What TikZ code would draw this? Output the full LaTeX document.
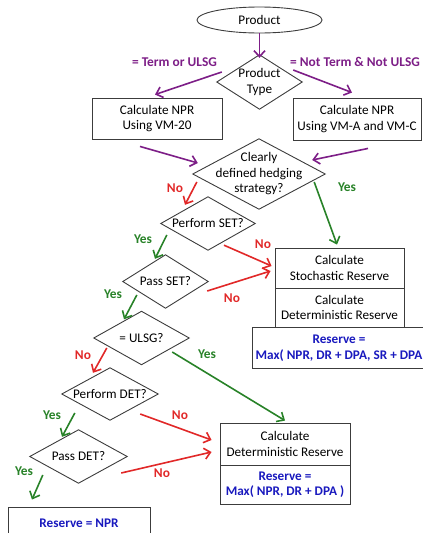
\documentclass[tikz,border=0pt]{standalone}
\usepackage{fontspec}
\setmainfont{Carlito}
\usetikzlibrary{shapes.geometric,arrows.meta}
\definecolor{cpurple}{RGB}{125,30,135}
\definecolor{cred}{RGB}{225,40,40}
\definecolor{cgreen}{RGB}{40,130,40}
\definecolor{cblue}{RGB}{25,25,190}
\definecolor{cline}{RGB}{60,60,60}
\begin{document}
\begin{tikzpicture}[x=1pt,y=-1pt,
  base/.style={font=\fontsize{13.2}{15.5}\selectfont, align=center, inner sep=0pt},
  box/.style={base, draw=cline, line width=0.9pt, rectangle},
  dia/.style={base, rectangle},
  ell/.style={base, draw=cline, line width=0.9pt, ellipse},
  arr/.style={line width=1.6pt, -{Straight Barb[length=6pt,width=11pt,line width=1.6pt]}},
  parr/.style={arr, draw=cpurple},
  rarr/.style={arr, draw=cred},
  garr/.style={arr, draw=cgreen},
  lab/.style={font=\fontsize{13.4}{15}\selectfont\bfseries, inner sep=0pt},
  res/.style={font=\fontsize{13.2}{15.5}\selectfont\bfseries, text=cblue, align=center}
]
\useasboundingbox (0,0) rectangle (423,533);
\clip (0,0) rectangle (423,533);

% nodes
\node[ell, minimum width=125, minimum height=26] (prod) at (259.5,20) {Product};
\node[dia, minimum width=85, minimum height=54] (ptype) at (259.5,82) {Product\\Type};
\node[box, minimum width=130, minimum height=41] (npr1) at (157,118.5) {Calculate NPR\\Using VM-20};
\node[box, minimum width=128, minimum height=42] (npr2) at (357,119) {Calculate NPR\\Using VM-A and VM-C};
\node[dia, minimum width=132, minimum height=70] (hedge) at (259,174) {Clearly\\defined hedging\\strategy?};
\node[dia, minimum width=94, minimum height=53] (pset) at (208,223.5) {Perform SET?};
\node[box, minimum width=129, minimum height=40] (stoch) at (339.5,268) {Calculate\\Stochastic Reserve};
\node[box, minimum width=129, minimum height=39] (detr1) at (339.5,307.5) {Calculate\\Deterministic Reserve};
\node[box, minimum width=178, minimum height=41] (res1) at (341,347.5) {};
\node[res] (res1t) at (339,348) {Reserve =\\Max( NPR, DR + DPA, SR + DPA};
\node[dia, minimum width=85, minimum height=53] (passset) at (165.5,281.5) {Pass SET?};
\node[dia, minimum width=95, minimum height=53] (ulsg) at (141.5,338) {= ULSG?};
\node[dia, minimum width=96, minimum height=52] (pdet) at (110,394) {Perform DET?};
\node[dia, minimum width=97, minimum height=53] (passdet) at (78.5,456.5) {Pass DET?};
\node[box, minimum width=130, minimum height=42] (det2) at (285,444) {Calculate\\Deterministic Reserve};
\node[box, minimum width=130, minimum height=39, res] (res2) at (285,484.5) {Reserve =\\Max( NPR, DR + DPA )};
\node[box, minimum width=142, minimum height=40] (resnpr) at (79,527) {};
\node[res, anchor=north] (resnprt) at (79,515) {Reserve = NPR};

% diamonds
\foreach \n in {ptype,hedge,pset,passset,ulsg,pdet,passdet}
  \draw[cline, line width=0.9pt] (\n.north) -- (\n.east) -- (\n.south) -- (\n.west) -- cycle;

% connectors
\draw[parr] (prod.south) -- ([yshift=-3]ptype.north);
\draw[parr] ([shift={(5,-10)}]ptype.west) -- ([shift={(-2,-3)}]npr1.north);
\draw[parr] ([shift={(-9,-12)}]ptype.east) -- ([shift={(-5,-5)}]npr2.north);
\draw[parr] ([shift={(-17,7)}]npr1.south) -- ([shift={(5,-11)}]hedge.west);
\draw[parr] ([shift={(11,8)}]npr2.south) -- ([shift={(-13,-14)}]hedge.east);
\draw[rarr] ([shift={(4,8)}]hedge.west) -- ([shift={(-23,8)}]pset.north);
\draw[garr] ([shift={(-11,8)}]hedge.east) -- ([shift={(-2.5,-3)}]stoch.north);
\draw[garr] ([shift={(6,11.5)}]pset.west) -- ([shift={(-10.5,4)}]passset.north);
\draw[rarr] ([shift={(16,-5)}]pset.south) -- ([shift={(-3,-2)}]stoch.west);
\draw[rarr] ([shift={(-1,9.5)}]passset.east) -- ([shift={(-4,3)}]stoch.west);
\draw[garr] ([shift={(14,13.5)}]passset.west) -- ([shift={(-17.5,8)}]ulsg.north);
\draw[rarr] ([shift={(13,10)}]ulsg.west) -- ([shift={(-17,5)}]pdet.north);
\draw[garr] ([shift={(-17,14)}]ulsg.east) -- ([shift={(0,-2)}]det2.north);
\draw[garr] ([shift={(13,19)}]pdet.west) -- ([shift={(-16.5,7)}]passdet.north);
\draw[rarr] ([shift={(-18,20)}]pdet.east) -- ([shift={(-8,-4)}]det2.west);
\draw[rarr] ([shift={(-6,16.5)}]passdet.east) -- ([shift={(-8,8)}]det2.west);
\draw[garr] ([shift={(13,18.5)}]passdet.west) -- ([shift={(-47,-7)}]resnpr.north);

% labels
\node[lab, text=cpurple] (l1) at (174.5,62) {= Term or ULSG};
\node[lab, text=cpurple] (l2) at (355,62) {= Not Term \& Not ULSG};
\node[lab, text=cred] (l3) at (175,188) {No};
\node[lab, text=cgreen] (l4) at (347,187) {Yes};
\node[lab, text=cgreen] (l5) at (143,239) {Yes};
\node[lab, text=cred] (l6) at (263,244) {No};
\node[lab, text=cred] (l7) at (232,298) {No};
\node[lab, text=cgreen] (l8) at (113,294) {Yes};
\node[lab, text=cred] (l9) at (83,355) {No};
\node[lab, text=cgreen] (l10) at (207,354) {Yes};
\node[lab, text=cgreen] (l11) at (52,415) {Yes};
\node[lab, text=cred] (l12) at (180,415) {No};
\node[lab, text=cgreen] (l13) at (24,471) {Yes};
\node[lab, text=cred] (l14) at (162,473) {No};
\end{tikzpicture}
\end{document}
